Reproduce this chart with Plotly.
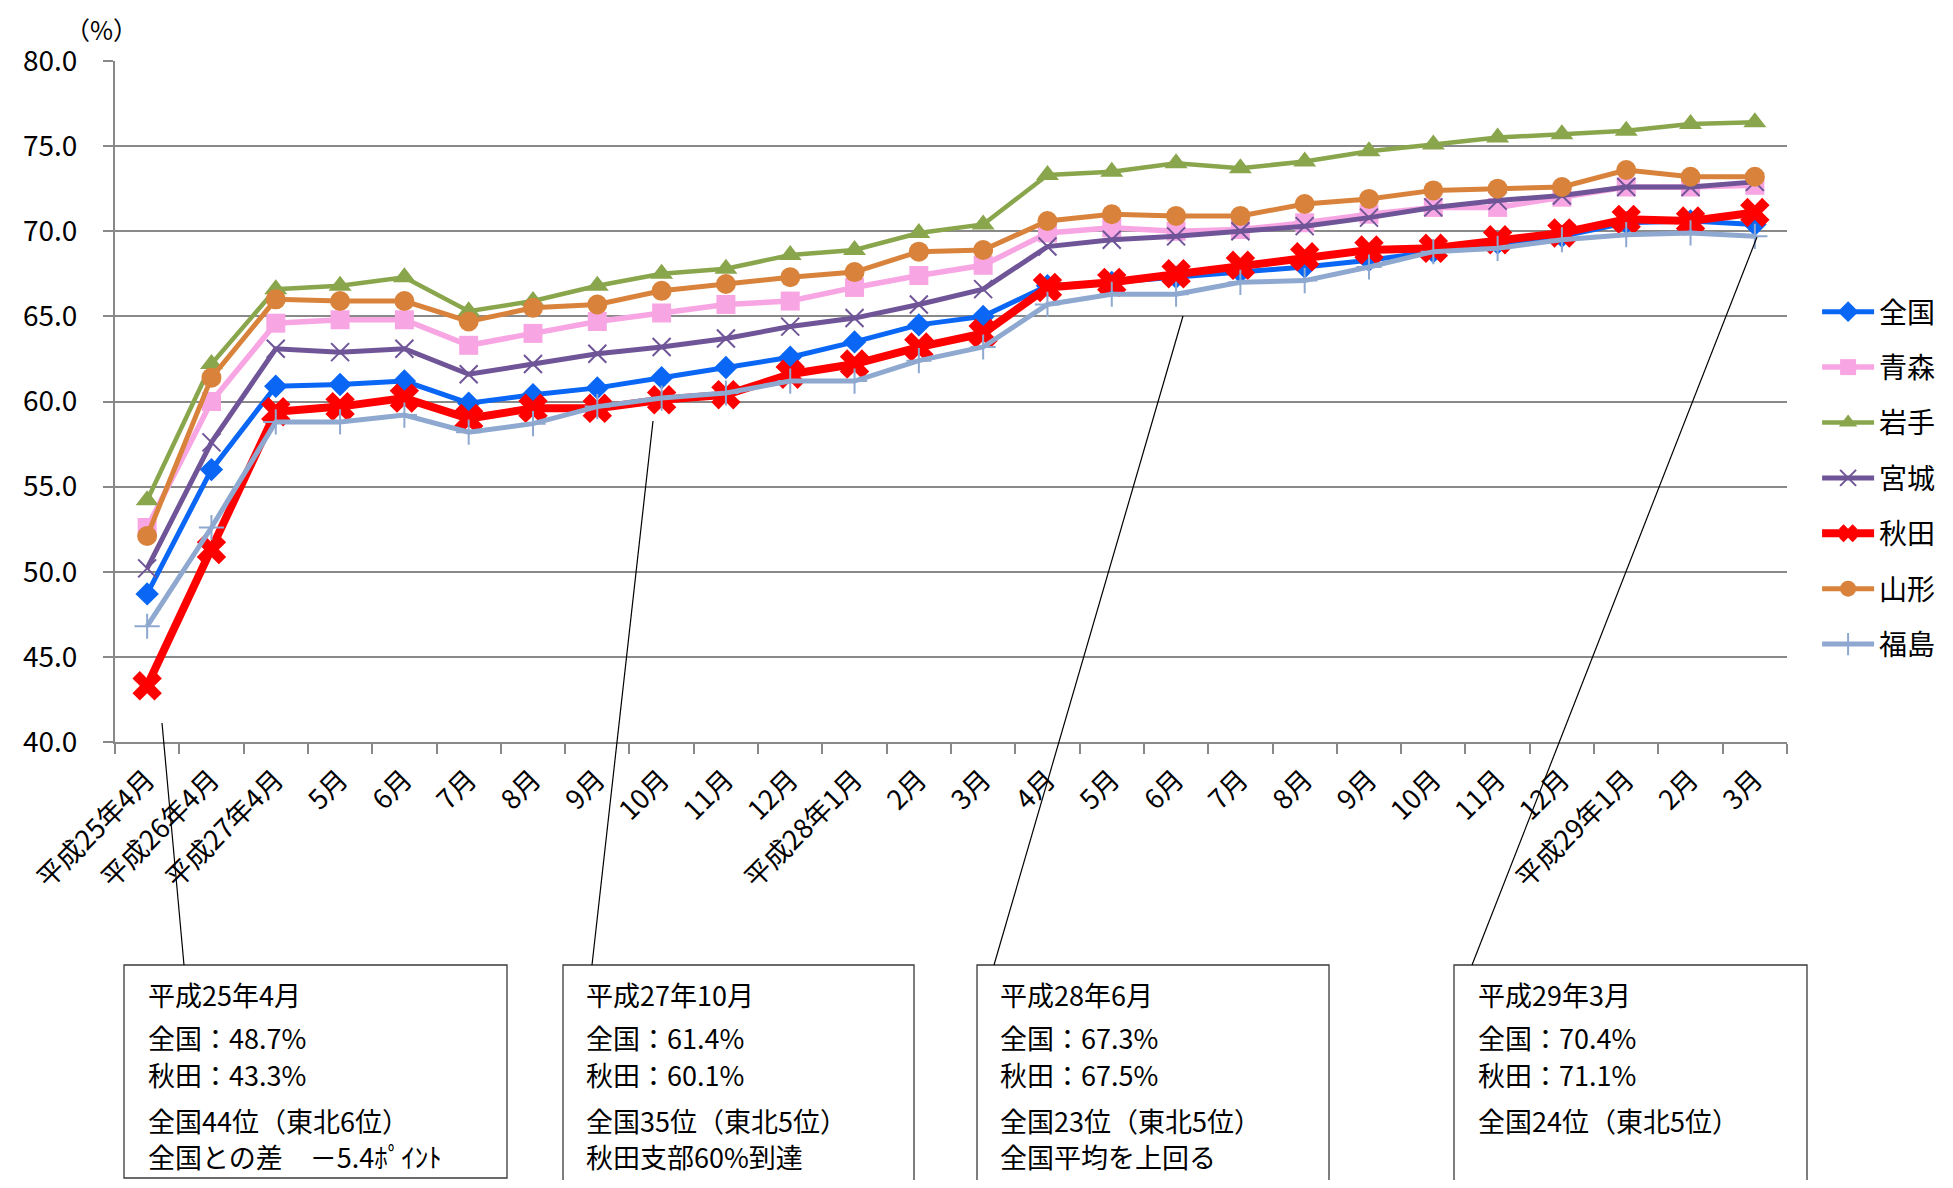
import plotly.graph_objects as go

# ---------------- data ----------------
categories = [
    "平成25年4月", "平成26年4月", "平成27年4月", "平成27年5月", "平成27年6月", "平成27年7月",
    "平成27年8月", "平成27年9月", "平成27年10月", "平成27年11月", "平成27年12月", "平成28年1月",
    "平成28年2月", "平成28年3月", "平成28年4月", "平成28年5月", "平成28年6月", "平成28年7月",
    "平成28年8月", "平成28年9月", "平成28年10月", "平成28年11月", "平成28年12月", "平成29年1月",
    "平成29年2月", "平成29年3月",
]
tick_labels = [
    "平成25年4月", "平成26年4月", "平成27年4月", "5月", "6月", "7月", "8月", "9月", "10月",
    "11月", "12月", "平成28年1月", "2月", "3月", "4月", "5月", "6月", "7月", "8月", "9月",
    "10月", "11月", "12月", "平成29年1月", "2月", "3月",
]

zenkoku = [48.7, 56.0, 60.9, 61.0, 61.2, 59.9, 60.4, 60.8, 61.4, 62.0, 62.6, 63.5, 64.5,
           65.0, 66.8, 67.0, 67.3, 67.6, 67.9, 68.3, 68.8, 69.3, 69.7, 70.5, 70.6, 70.4]
aomori = [52.6, 60.0, 64.6, 64.8, 64.8, 63.3, 64.0, 64.7, 65.2, 65.7, 65.9, 66.7, 67.4,
          68.0, 69.9, 70.2, 70.0, 70.1, 70.5, 71.0, 71.4, 71.4, 72.0, 72.6, 72.6, 72.7]
iwate = [54.2, 62.2, 66.6, 66.8, 67.3, 65.3, 65.9, 66.8, 67.5, 67.8, 68.6, 68.9, 69.9,
         70.4, 73.3, 73.5, 74.0, 73.7, 74.1, 74.7, 75.1, 75.5, 75.7, 75.9, 76.3, 76.4]
miyagi = [50.2, 57.6, 63.1, 62.9, 63.1, 61.6, 62.2, 62.8, 63.2, 63.7, 64.4, 64.9, 65.7,
          66.6, 69.1, 69.5, 69.7, 70.0, 70.3, 70.8, 71.4, 71.8, 72.1, 72.6, 72.6, 72.9]
akita = [43.3, 51.3, 59.4, 59.7, 60.2, 59.0, 59.6, 59.6, 60.1, 60.4, 61.6, 62.2, 63.2,
         64.0, 66.7, 67.0, 67.5, 68.0, 68.5, 68.9, 69.0, 69.5, 69.9, 70.7, 70.6, 71.1]
yamagata = [52.1, 61.4, 66.0, 65.9, 65.9, 64.7, 65.5, 65.7, 66.5, 66.9, 67.3, 67.6, 68.8,
            68.9, 70.6, 71.0, 70.9, 70.9, 71.6, 71.9, 72.4, 72.5, 72.6, 73.6, 73.2, 73.2]
fukushima = [46.8, 52.6, 58.8, 58.8, 59.2, 58.2, 58.7, 59.7, 60.2, 60.5, 61.2, 61.2, 62.4,
             63.2, 65.7, 66.3, 66.3, 67.0, 67.1, 67.9, 68.8, 69.0, 69.5, 69.8, 69.9, 69.7]

series_names = ["全国", "青森", "岩手", "宮城", "秋田", "山形", "福島"]
series_values = [zenkoku, aomori, iwate, miyagi, akita, yamagata, fukushima]

y_ticks = [40, 45, 50, 55, 60, 65, 70, 75, 80]

box_texts = [
    ["平成25年4月", "全国：48.7%", "秋田：43.3%", "全国44位（東北6位）", "全国との差　－5.4ﾎﾟｲﾝﾄ"],
    ["平成27年10月", "全国：61.4%", "秋田：60.1%", "全国35位（東北5位）", "秋田支部60%到達"],
    ["平成28年6月", "全国：67.3%", "秋田：67.5%", "全国23位（東北5位）", "全国平均を上回る"],
    ["平成29年3月", "全国：70.4%", "秋田：71.1%", "全国24位（東北5位）"],
]

# ---------------- styles ----------------
FONT = "Noto Sans CJK JP, sans-serif"
styles = [
    dict(color="#0A66F5", width=5, symbol="diamond", size=18, mlw=0),
    dict(color="#F8A6E3", width=5.5, symbol="square", size=19, mlw=0),
    dict(color="#8AA64D", width=4.5, symbol="triangle-up", size=20, mlw=0),
    dict(color="#6F5597", width=5, symbol="x-thin-open", size=18, mlw=2),
    dict(color="#FF0000", width=8, symbol="x", size=26, mlw=0),
    dict(color="#D9823B", width=5, symbol="circle", size=20, mlw=0),
    dict(color="#8EA8D0", width=5, symbol="cross-thin-open", size=18, mlw=2),
]

# page geometry (browser body has an 8px margin)
PAGE_W, PAGE_H, OFF = 1953, 1188, 8
W, H = PAGE_W - 2 * OFF, PAGE_H - 2 * OFF
# plot area in page pixels
L, R, T, B = 115, 1787, 61, 742


def xp(px):
    return (px - L) / (R - L)


def yp(py):
    return (B - py) / (B - T)


fig = go.Figure()
for name, vals, st in zip(series_names, series_values, styles):
    fig.add_trace(go.Scatter(
        x=categories, y=vals, name=name, mode="lines+markers",
        legendgroup=name,
        line=dict(color=st["color"], width=st["width"]),
        marker=dict(symbol=st["symbol"], size=st["size"], color=st["color"],
                    line=dict(color=st["color"], width=st["mlw"])),
    ))

GRID = "#898989"
fig.update_layout(
    width=W, height=H,
    margin=dict(l=L - OFF, r=W - (R - OFF), t=T - OFF, b=H - (B - OFF), autoexpand=False),
    paper_bgcolor="white", plot_bgcolor="white",
    font=dict(family=FONT, color="black", size=25),
    showlegend=True,
    legend=dict(x=1.018, xanchor="left", y=yp(478), yanchor="middle",
                font=dict(size=28, family=FONT), tracegroupgap=16, itemwidth=52,
                bgcolor="rgba(0,0,0,0)"),
    xaxis=dict(
        type="category", categoryorder="array", categoryarray=categories,
        range=[-0.5, len(categories) - 0.5], automargin=False,
        tickmode="array", tickvals=categories, ticktext=tick_labels,
        tickangle=-45, tickson="boundaries", ticks="outside", ticklen=10,
        tickwidth=2, tickcolor=GRID, showline=True, linecolor=GRID, linewidth=2,
        showgrid=False, zeroline=False, tickfont=dict(size=27, family=FONT),
        ticklabelstandoff=9,
    ),
    yaxis=dict(
        range=[40, 80], automargin=False, tickmode="array", tickvals=y_ticks,
        tickformat=".1f",
        ticks="outside", ticklen=10, tickwidth=2, tickcolor=GRID,
        showline=True, linecolor=GRID, linewidth=2,
        showgrid=True, gridcolor=GRID, gridwidth=2, zeroline=False,
        tickfont=dict(size=28, family=FONT), ticklabelstandoff=20,
    ),
)

# unit label
fig.add_annotation(text="（%）", x=xp(101), y=yp(9), xref="paper", yref="paper",
                   showarrow=False, xanchor="center", yanchor="top",
                   font=dict(size=25, family=FONT))

# annotation boxes (page pixels)
boxes = [(124, 507, 1178), (563, 914, 1200), (977, 1329, 1200), (1454, 1807, 1200)]
box_top = 965
text_x = [146, 584, 998, 1476]
line_y = [994, 1037, 1074, 1120, 1156]
leaders = [((162, 723), (184, 965)), ((653, 421), (592, 965)),
           ((1183, 316), (994, 965)), ((1757, 237), (1472, 965))]

for (x0, x1, yb), tx, lines, ((lx0, ly0), (lx1, ly1)) in zip(boxes, text_x, box_texts, leaders):
    fig.add_shape(type="rect", xref="paper", yref="paper",
                  x0=xp(x0), x1=xp(x1), y0=yp(yb), y1=yp(box_top),
                  line=dict(color="#3a3a3a", width=1.3), fillcolor="white", layer="above")
    fig.add_shape(type="line", xref="paper", yref="paper",
                  x0=xp(lx0), y0=yp(ly0), x1=xp(lx1), y1=yp(ly1),
                  line=dict(color="black", width=1.2), layer="above")
    for t, ly in zip(lines, line_y):
        fig.add_annotation(text=t, x=xp(tx), y=yp(ly), xref="paper", yref="paper",
                           showarrow=False, xanchor="left", yanchor="middle",
                           font=dict(size=27, family=FONT))

fig.write_html("out.html")
